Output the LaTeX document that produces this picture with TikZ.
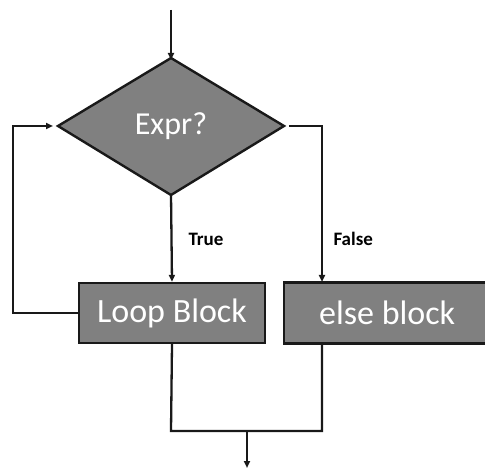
\documentclass[tikz,border=0pt]{standalone}
\usepackage{fontspec}
\setmainfont{Carlito}
\usetikzlibrary{shapes.geometric,arrows.meta}
\begin{document}
\begin{tikzpicture}[x=1pt,y=-1pt,
  flow/.style={line width=2.3pt,draw=black!90},
  arr/.style={flow,-{Triangle[length=7pt,width=6pt]}},
  blockbox/.style={draw=black!90,line width=2.4pt,fill=black!50,text=white,
    font=\fontsize{34}{38}\selectfont,inner sep=0pt},
  cond/.style={draw=black!90,line width=2.4pt,fill=black!50},
  lbl/.style={font=\bfseries\fontsize{19}{21}\selectfont,anchor=west}]
\useasboundingbox (0,0) rectangle (485,470);
% decision diamond
\draw[cond] (171,58) -- (284,126) -- (171,195) -- (58,126) -- cycle;
\node[text=white,font=\fontsize{32}{36}\selectfont] (expr) at (171,126) {Expr?};
\coordinate (dtop) at (171,58);
\coordinate (dbot) at (171,195);
\coordinate (dleft) at (58,126);
\coordinate (dright) at (284,126);
% process blocks
\node[blockbox,minimum width=186pt,minimum height=60pt] (loop) at (172,313) {Loop Block};
\node[blockbox,minimum width=206pt,minimum height=61pt,anchor=west] (else) at (283,313) {else block};
% entry and exit
\coordinate (in) at (171,10);
\coordinate (join) at (247,431);
\coordinate (out) at (247,468);
\draw[arr] (in) -- ([yshift=-2pt]dtop);
\draw[arr] ([yshift=1pt]dbot) -- (loop.north);
\draw[arr] ([xshift=5pt]dright) -| (322,282);
\draw[arr] (loop.west) -| (13,126) -- ([xshift=-5pt]dleft);
\draw[flow] (loop.south) -- (171,431) -- (322,431) -- (322,344);
\draw[arr] (join) -- (out);
% branch labels
\node[lbl] (t) at (185,239) {True};
\node[lbl] (f) at (330,239) {False};
\end{tikzpicture}
\end{document}
